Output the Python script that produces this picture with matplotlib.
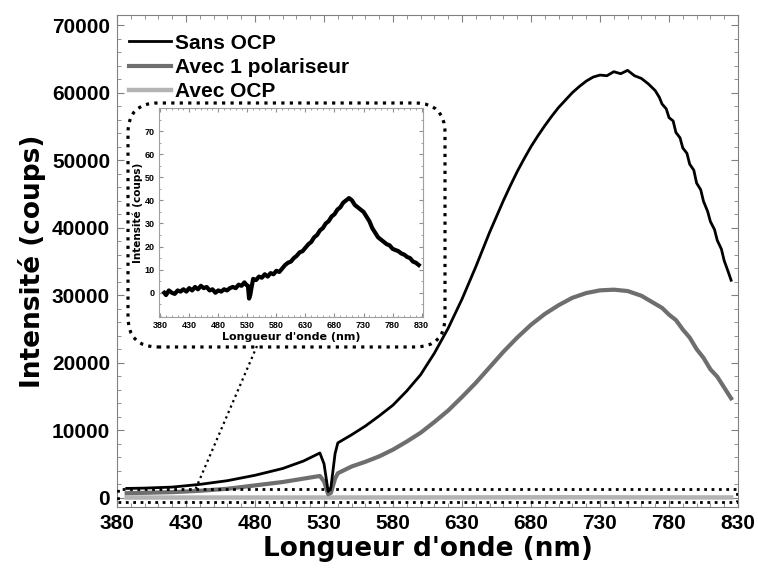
import matplotlib
matplotlib.use("Agg")
import matplotlib.pyplot as plt
from matplotlib.patches import FancyBboxPatch, Rectangle
from matplotlib.ticker import MultipleLocator

plt.rcParams['font.family'] = ['Liberation Sans', 'DejaVu Sans']
plt.rcParams['font.weight'] = 'bold'

# spectre sans OCP
wl_sans = [387, 400, 420, 440, 460, 480, 500, 515, 527, 530, 533, 535, 538, 540,
           550, 560, 570, 580, 590, 600, 610, 620, 630, 640, 650, 660, 665, 670, 675, 680,
           685, 690, 695, 700, 705, 710, 715, 720, 725, 730, 735, 740, 745, 750, 755, 760,
           765, 770, 773, 775, 778, 780, 783, 785, 788, 790, 793, 795, 798, 800, 803, 805,
           808, 810, 813, 815, 818, 820, 823, 825]
i_sans = [1350, 1400, 1550, 1950, 2500, 3300, 4300, 5400, 6600, 5000, 900, 1500, 6500, 8100,
          9300, 10600, 12100, 13700, 15800, 18200, 21400, 25100, 29400, 34200, 39300, 44000, 46200, 48300, 50200, 52000,
          53600, 55100, 56500, 57800, 58900, 60000, 60900, 61700, 62300, 62600, 62500, 63100, 62800, 63300, 62500, 62100,
          61300, 60300, 59300, 58300, 57600, 56300, 55800, 54100, 53300, 51800, 51000, 49400, 48500, 46600, 45600, 43900,
          42400, 40900, 39700, 38100, 36800, 35100, 33400, 32200]

# spectre avec 1 polariseur
wl_pol = [387, 400, 420, 440, 460, 480, 500, 515, 527, 530, 533, 535, 538, 540,
          550, 560, 570, 580, 590, 600, 610, 620, 630, 640, 650, 660, 670, 680,
          690, 700, 710, 720, 730, 740, 750, 760, 770, 775, 780, 785, 790, 795,
          800, 805, 810, 815, 820, 825]
i_pol = [650, 700, 800, 1000, 1300, 1800, 2300, 2800, 3200, 2400, 500, 700, 2800, 3600,
         4600, 5300, 6100, 7100, 8300, 9600, 11200, 12900, 14900, 17000, 19300, 21600, 23700, 25600,
         27200, 28500, 29600, 30300, 30700, 30800, 30600, 29900, 28700, 28100, 27100, 26300, 24900, 23700,
         22000, 20700, 19000, 17900, 16300, 14700]

# spectre avec OCP (signal faible)
wl_ocp = [387, 390, 395, 400, 405, 410, 415, 420, 425, 430, 435, 440, 445, 450, 455,
          460, 465, 470, 475, 480, 485, 490, 495, 500, 505, 510, 515, 520, 525, 528,
          531, 533, 535, 537, 540, 545, 550, 555, 560, 565, 570, 575, 580, 585, 590,
          595, 600, 605, 610, 615, 620, 625, 630, 635, 640, 645, 650, 655, 660, 665,
          670, 675, 680, 685, 690, 695, 700, 705, 710, 715, 720, 725, 730, 735, 740,
          745, 750, 755, 760, 765, 770, 775, 780, 785, 790, 795, 800, 805, 810, 815,
          820, 825]
i_ocp = [0, -1, 1, 0, -0.5, 1, 0.5, 1.5, 0.5, 2, 1, 2.5, 1.5, 3, 2,
         2.5, 1, 1.5, 0, 1, 0.5, 1.5, 1, 2, 2.5, 2, 3.5, 3, 4.5, 3.5,
         3, -2.5, -1, 2, 6, 5.5, 7, 6.5, 8, 7, 8.5, 8, 9.5, 9, 10.5,
         12, 13, 13.5, 15, 16, 17.5, 18, 19.5, 21, 22, 24, 25, 27, 28, 30,
         31, 33, 34, 36, 37, 39, 40, 41, 40, 38, 37, 36, 35, 33, 31,
         28, 26, 24, 23, 22, 21, 20.5, 19, 18.5, 18, 17, 16.5, 15.5, 15, 13.5,
         13, 12]

xticks = [380, 430, 480, 530, 580, 630, 680, 730, 780, 830]

fig = plt.figure(figsize=(7.58, 5.68), dpi=100)
ax = fig.add_axes([0.1544, 0.1074, 0.8192, 0.8662])

ax.plot(wl_ocp, i_ocp, color='#b4b4b4', lw=3.2, label='Avec OCP', zorder=3)
ax.plot(wl_pol, i_pol, color='#6e6e6e', lw=3.0, label='Avec 1 polariseur', zorder=4)
ax.plot(wl_sans, i_sans, color='black', lw=2.0, label='Sans OCP', zorder=5)

ax.set_xlim(380, 830)
ax.set_ylim(-1400, 71500)
ax.set_xticks(xticks)
ax.xaxis.set_minor_locator(MultipleLocator(10))
ax.yaxis.set_major_locator(MultipleLocator(10000))
ax.yaxis.set_minor_locator(MultipleLocator(2000))
ax.tick_params(which='both', direction='in', top=True, right=True, color='#808080',
               labelsize=15, pad=5)
ax.tick_params(which='major', length=5)
ax.tick_params(which='minor', length=3)
for s in ax.spines.values():
    s.set_color('#808080')
ax.set_xlabel("Longueur d'onde (nm)", fontsize=19, fontweight='bold',
              family=['DejaVu Sans'], labelpad=2)
ax.set_ylabel("Intensité (coups)", fontsize=19, fontweight='bold',
              family=['DejaVu Sans'], labelpad=4)

h, l = ax.get_legend_handles_labels()
ax.legend(h[::-1], l[::-1], loc='upper left', frameon=False, fontsize=15,
          handlelength=2.0, handletextpad=0.2, labelspacing=0.25,
          borderaxespad=0.5, bbox_to_anchor=(-0.011, 1.0))

# zone agrandie
ax.add_patch(Rectangle((381, -700), 448, 2000, fill=False, ls=':', lw=2.0,
                       color='black', zorder=6))
ax.plot([437, 481.5], [1300, 22500], ls=':', lw=1.6, color='black', zorder=6)

box = FancyBboxPatch((1.28, 2.21), 3.17, 2.44,
                     boxstyle="round,pad=0,rounding_size=0.3",
                     transform=fig.dpi_scale_trans, fill=False,
                     ls=':', lw=2.3, edgecolor='black', zorder=10)
fig.patches.append(box)

ins = fig.add_axes([0.2098, 0.4419, 0.348, 0.368])
ins.plot(wl_ocp, i_ocp, color='black', lw=3.0)
ins.set_xlim(378, 832)
ins.set_ylim(-10.5, 80)
ins.set_xticks(xticks)
ins.xaxis.set_minor_locator(MultipleLocator(10))
ins.set_yticks([0, 10, 20, 30, 40, 50, 60, 70])
ins.yaxis.set_minor_locator(MultipleLocator(5))
ins.tick_params(which='both', direction='in', top=True, right=True, color='#909090',
                labelsize=6.5, pad=3)
ins.tick_params(which='major', length=3)
ins.tick_params(which='minor', length=1.5)
for s in ins.spines.values():
    s.set_color('#a0a0a0')
ins.set_xlabel("Longueur d'onde (nm)", fontsize=8, fontweight='bold',
               family=['DejaVu Sans'], labelpad=1)
ins.set_ylabel("Intensité (coups)", fontsize=7.5, fontweight='bold',
               family=['DejaVu Sans'], labelpad=1)

fig.savefig('out.png', dpi=100)
